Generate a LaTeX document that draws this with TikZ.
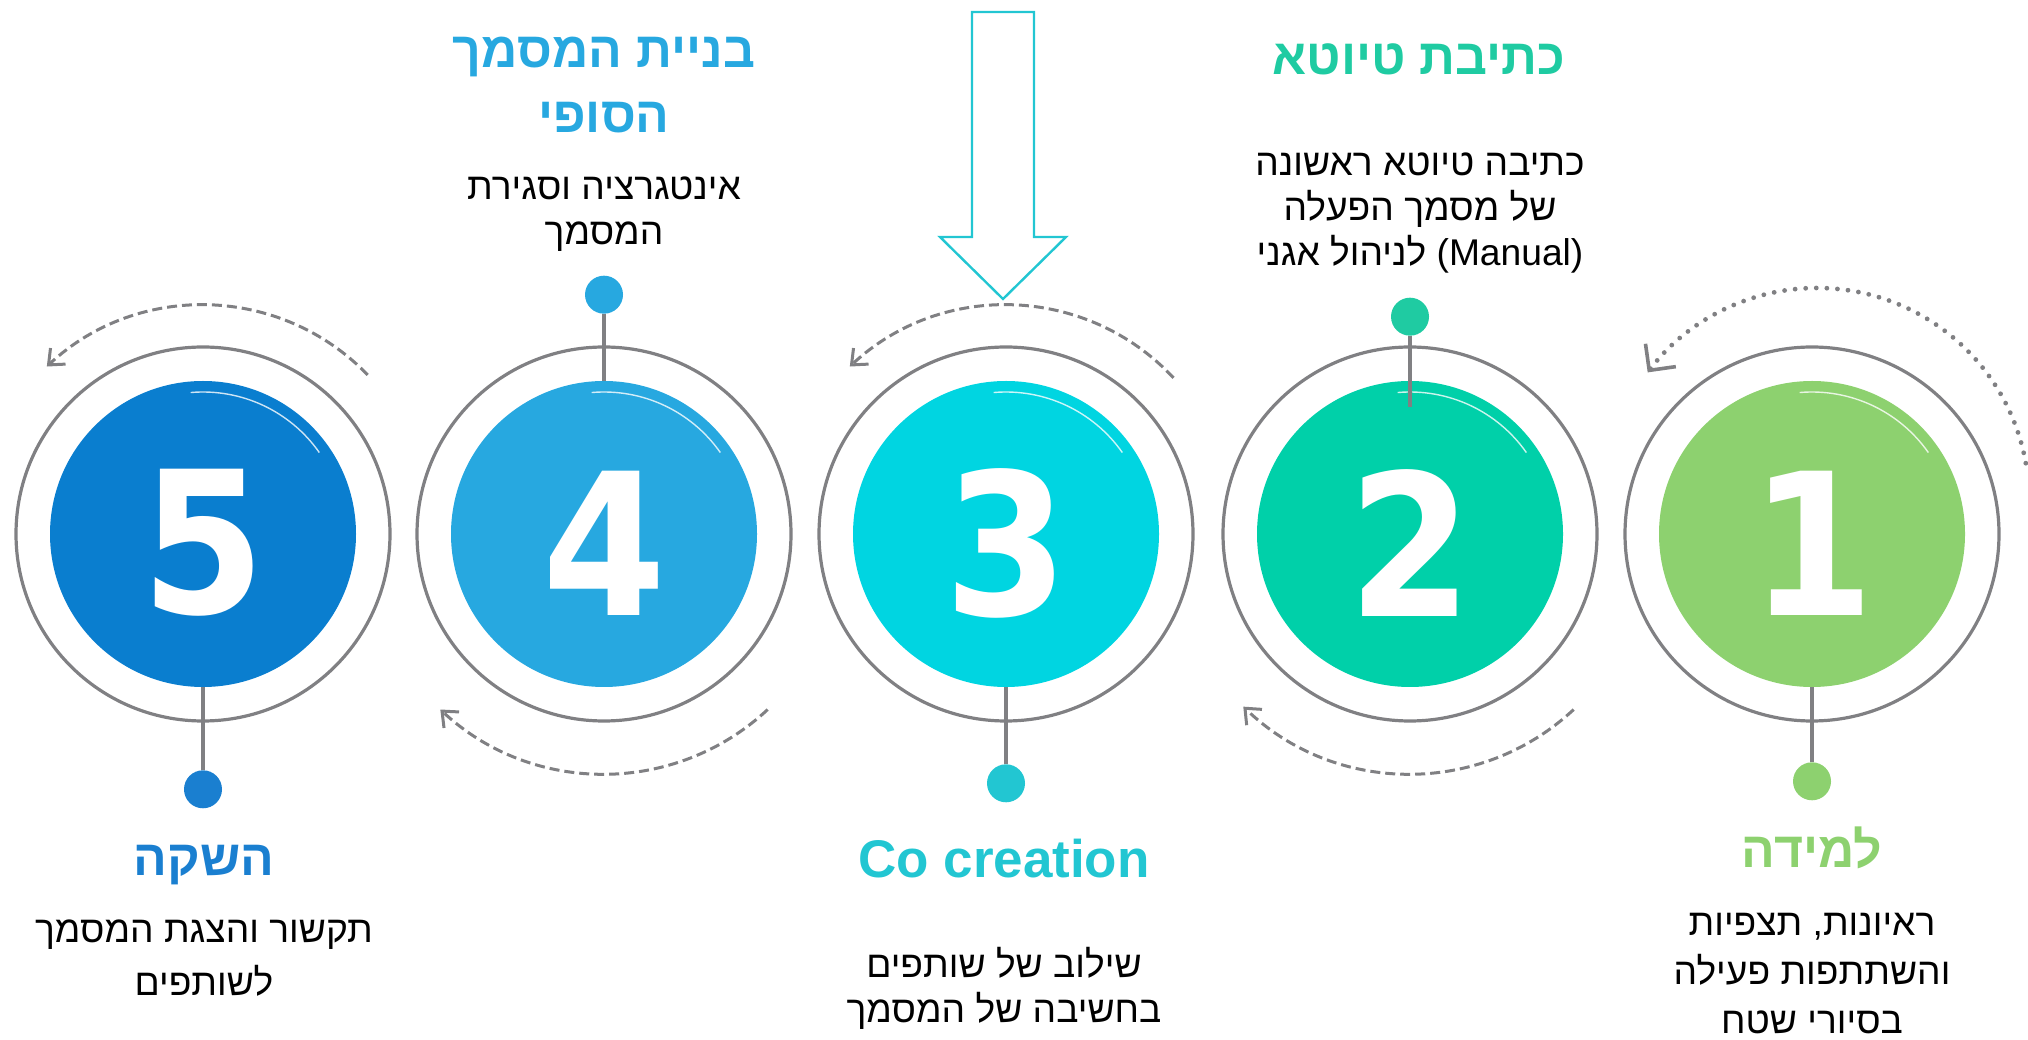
\documentclass[tikz,border=0pt]{standalone}
\usepackage{fontspec}
\setmainfont{Liberation Sans}
\newfontfamily\hebfont[Script=Hebrew]{Liberation Sans}
\newfontfamily\numfont[FakeStretch=0.9]{DejaVu Sans}
\TeXXeTstate=1
\usetikzlibrary{arrows.meta, positioning, calc}
\definecolor{grayline}{HTML}{808083}
\definecolor{learn}{HTML}{8DD16F}
\definecolor{draft}{HTML}{00D0A9}
\definecolor{draftlbl}{HTML}{1FCBA2}
\definecolor{cocreate}{HTML}{00D5E1}
\definecolor{cocrlbl}{HTML}{22C6D2}
\definecolor{build}{HTML}{27A8E0}
\definecolor{launch}{HTML}{0A7ECF}
\definecolor{launchlbl}{HTML}{1A7FD0}
\newcommand{\hebline}[1]{\beginR #1\endR}
\tikzset{
  ring/.style={circle, draw=grayline, line width=1.6pt, minimum size=187pt, inner sep=0pt},
  disk/.style={circle, fill=#1, minimum size=153pt, inner sep=0pt},
  numtxt/.style={text=white, font=\numfont\bfseries\fontsize{99}{99}\selectfont, inner sep=0pt},
  pin/.style={circle, fill=#1, minimum size=19pt, inner sep=0pt},
  stem/.style={draw=grayline, line width=1.6pt},
  streak/.style={draw=white, line width=0.7pt, opacity=0.8},
  steptitle/.style={text=#1, font=\hebfont\bfseries\fontsize{25}{32.5}\selectfont, align=center, inner sep=0pt, anchor=base},
  steptext/.style={font=\hebfont\fontsize{18.6}{#1}\selectfont, align=center, inner sep=0pt, anchor=base},
  steptext/.default=22.5,
  hollow/.style={draw=cocrlbl, line width=1.2pt, line join=miter},
  flow/.style={draw=grayline, line width=1.5pt, dash pattern=on 5pt off 2.5pt, -{Straight Barb[length=6.5pt,width=11pt]}},
  dotflow/.style={draw=grayline, line width=2.4pt, line cap=round, dash pattern=on 0pt off 5.3pt, -{Straight Barb[length=9.5pt,width=19pt,line width=1.8pt]}}
}

\begin{document}
\begin{tikzpicture}[x=0.5pt, y=0.5pt]
    \path[use as bounding box, clip] (0,0) rectangle (2028,1039);
    % rings and brushed disks
    \node[ring] (rg1) at (1812,505) {};
    \node[ring] (rg2) at (1410,505) {};
    \node[ring] (rg3) at (1006,505) {};
    \node[ring] (rg4) at (604,505) {};
    \node[ring] (rg5) at (203,505) {};
    \node[disk=learn] (dk1) at (rg1) {};
    \node[disk=draft] (dk2) at (rg2) {};
    \node[disk=cocreate] (dk3) at (rg3) {};
    \node[disk=build] (dk4) at (rg4) {};
    \node[disk=launch] (dk5) at (rg5) {};
    \draw[streak] ($(dk1)+(95:142)$) arc[start angle=95, end angle=35, radius=142];
    \draw[streak] ($(dk2)+(95:142)$) arc[start angle=95, end angle=35, radius=142];
    \draw[streak] ($(dk3)+(95:142)$) arc[start angle=95, end angle=35, radius=142];
    \draw[streak] ($(dk4)+(95:142)$) arc[start angle=95, end angle=35, radius=142];
    \draw[streak] ($(dk5)+(95:142)$) arc[start angle=95, end angle=35, radius=142];
    \node[numtxt] (n1) at ($(dk1)+(0,-9)$) {1};
    \node[numtxt] (n2) at ($(dk2)+(0,-9)$) {2};
    \node[numtxt] (n3) at ($(dk3)+(0,-9)$) {3};
    \node[numtxt] (n4) at ($(dk4)+(0,-9)$) {4};
    \node[numtxt] (n5) at ($(dk5)+(0,-9)$) {5};
    % pins
    \node[pin=learn, below=37.25pt of dk1] (pin1) {};
    \node[pin=draftlbl, above=22.25pt of dk2] (pin2) {};
    \node[pin=cocrlbl, below=38.25pt of dk3] (pin3) {};
    \node[pin=build, above=33.25pt of dk4] (pin4) {};
    \node[pin=launchlbl, below=41.25pt of dk5] (pin5) {};
    \coordinate (stm2) at ($(dk2.north)+(0,-26)$);
    \draw[stem] (dk1) -- (pin1);
    \draw[stem] (pin2) -- (stm2);
    \draw[stem] (dk3) -- (pin3);
    \draw[stem] (dk4) -- (pin4);
    \draw[stem] (dk5) -- (pin5);
    % arrow into step 3
    \draw[hollow] (972,1027) -- (1034,1027) -- (1034,802) -- (1066,802) -- (1003,740) -- (940,802) -- (972,802) -- cycle;
    % flow arcs
    \draw[flow] ($(dk3)+(43:229)$) arc[start angle=43, end angle=133, radius=229];
    \draw[flow] ($(dk5)+(44:229)$) arc[start angle=44, end angle=133, radius=229];
    \draw[flow] ($(dk2)+(-47:240)$) arc[start angle=-47, end angle=-134, radius=240];
    \draw[flow] ($(dk4)+(-47:240)$) arc[start angle=-47, end angle=-133, radius=240];
    \draw[dotflow] (1817,539) ++(10:212) arc[start angle=10, end angle=143, radius=212];
    % titles and texts
    \node[steptitle=learn] (ttl1) at (1812,172) {\hebline{למידה}};
    \node[steptitle=draftlbl] (ttl2) at (1419,964) {\hebline{כתיבת טיוטא}};
    \node[steptitle=cocrlbl, font=\hebfont\bfseries\fontsize{26.5}{30}\selectfont] (ttl3) at (1004,162) {Co creation};
    \node[steptitle=build] (ttl4) at (604,906) {\hebline{בניית המסמך}\\\hebline{הסופי}};
    \node[steptitle=launchlbl] (ttl5) at (204,164) {\hebline{השקה}};
    \node[steptext=24.5] (txt1) at (1812,6) {\hebline{ראיונות, תצפיות}\\\hebline{והשתתפות פעילה}\\\hebline{בסיורי שטח}};
    \node[steptext] (txt2) at (1420,773) {\hebline{כתיבה טיוטא ראשונה}\\\hebline{של מסמך הפעלה}\\\hebline{\beginL(Manual)\endL{} לניהול אגני}};
    \node[steptext] (txt3) at (1004,17) {\hebline{שילוב של שותפים}\\\hebline{בחשיבה של המסמך}};
    \node[steptext] (txt4) at (604,794) {\hebline{אינטגרציה וסגירת}\\\hebline{המסמך}};
    \node[steptext=26.5] (txt5) at (204,44) {\hebline{תקשור והצגת המסמך}\\\hebline{לשותפים}};
\end{tikzpicture}
\end{document}
